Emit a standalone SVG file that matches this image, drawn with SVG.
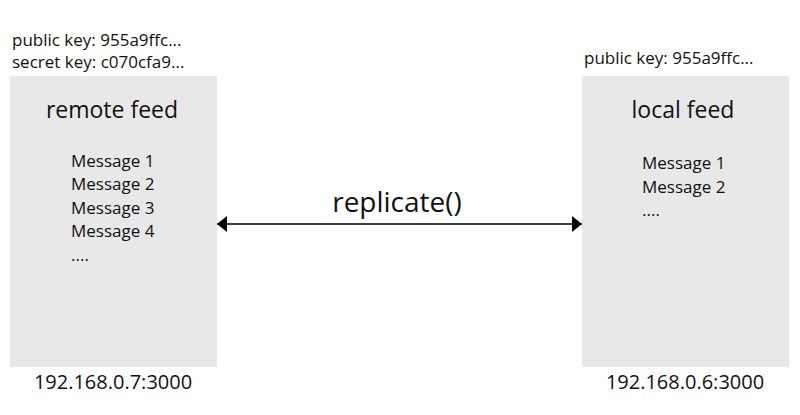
<svg xmlns="http://www.w3.org/2000/svg" width="800" height="415" viewBox="0 0 800 415">
<style>
text{font-family:"Open Sans","Noto Sans","Liberation Sans",sans-serif;fill:#111}
.box{fill:#e8e8e8}
.key{font-size:17px}
.title{font-size:23px;text-anchor:middle}
.msg{font-size:17px}
.ip{font-size:20px;text-anchor:middle}
.lbl{font-size:28px;text-anchor:middle}
</style>
<defs>
<marker id="ah" viewBox="0 0 10 16" refX="10" refY="8" markerWidth="10" markerHeight="16" markerUnits="userSpaceOnUse" orient="auto-start-reverse">
<path d="M0,0 L10,8 L0,16 Z" fill="#000"/>
</marker>
</defs>
<g id="remote">
<text class="key" x="12" y="46">public key: 955a9ffc...</text>
<text class="key" x="12" y="68">secret key: c070cfa9...</text>
<rect class="box" x="10" y="76" width="207" height="291"/>
<text class="title" x="112" y="118">remote feed</text>
<text class="msg" x="71" y="167">Message 1</text>
<text class="msg" x="71" y="190">Message 2</text>
<text class="msg" x="71" y="214">Message 3</text>
<text class="msg" x="71" y="237">Message 4</text>
<text class="msg" x="71" y="261">....</text>
<text class="ip" x="113" y="389">192.168.0.7:3000</text>
</g>
<g id="local">
<text class="key" x="584" y="64">public key: 955a9ffc...</text>
<rect class="box" x="582" y="76" width="207" height="291"/>
<text class="title" x="683" y="118">local feed</text>
<text class="msg" x="642" y="169">Message 1</text>
<text class="msg" x="642" y="193">Message 2</text>
<text class="msg" x="642" y="216">....</text>
<text class="ip" x="685" y="389">192.168.0.6:3000</text>
</g>
<g id="connectors">
<line x1="217" y1="224" x2="582" y2="224" stroke="#000" stroke-width="1.5" marker-start="url(#ah)" marker-end="url(#ah)"/>
<text class="lbl" x="397" y="212">replicate()</text>
</g>
</svg>
